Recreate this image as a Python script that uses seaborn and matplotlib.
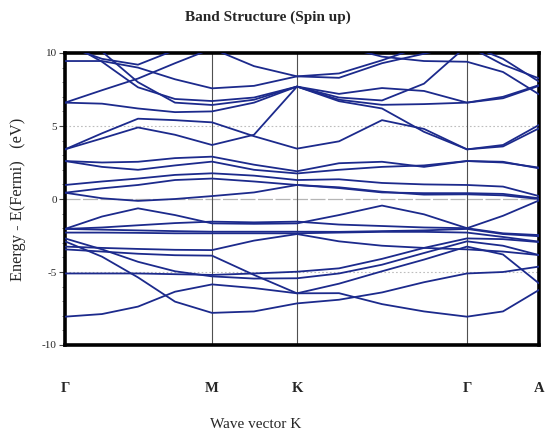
import matplotlib
matplotlib.use("Agg")
import matplotlib.pyplot as plt
from matplotlib.ticker import MultipleLocator
import pandas as pd
import seaborn as sns

# path coordinate along Γ-M-K-Γ-A (arbitrary units)
k_path = [0, 37, 73, 110, 147, 189, 232, 274, 317, 359, 402, 438, 474]
sym_k = [0, 147, 232, 402, 474]
sym_labels = ["Γ", "M", "K", "Γ", "A"]
y_ticks = [-10, -5, 0, 5, 10]

# band energies (eV) read at each k_path point
band_01 = [9.45, 9.45, 9.0, 8.2, 7.58, 7.75, 8.4, 8.3, 9.3, 9.95, 10.6, 9.6, 8.04]
band_02 = [6.6, 7.45, 8.25, 9.3, 10.3, 10.6, 10.6, 10.6, 10.6, 10.6, 10.5, 9.2, 8.26]
band_03 = [10.5, 9.6, 9.2, 10.2, 10.6, 10.6, 10.6, 10.5, 9.75, 9.45, 9.4, 8.7, 7.17]
band_04 = [10.8, 9.4, 7.65, 6.85, 6.71, 6.95, 7.7, 6.95, 6.75, 7.9, 10.5, 10.6, 10.6]
band_05 = [11.2, 10.1, 8.0, 6.6, 6.44, 6.8, 7.7, 7.2, 7.6, 7.4, 6.6, 7.0, 7.8]
band_06 = [11.0, 11.0, 11.0, 10.8, 10.3, 9.1, 8.4, 8.6, 9.5, 10.5, 10.6, 10.6, 10.6]
band_07 = [6.6, 6.53, 6.2, 5.95, 6.0, 6.6, 7.7, 6.7, 6.2, 4.6, 3.4, 3.6, 4.84]
band_08 = [3.4, 4.5, 5.5, 5.4, 5.25, 4.3, 3.45, 3.95, 5.4, 4.8, 3.4, 3.7, 5.07]
band_09 = [3.4, 4.15, 4.9, 4.4, 3.7, 4.4, 7.7, 6.8, 6.45, 6.5, 6.6, 6.9, 7.75]
band_10 = [2.6, 2.5, 2.55, 2.8, 2.9, 2.35, 1.9, 2.45, 2.55, 2.2, 2.6, 2.55, 2.1]
band_11 = [2.6, 2.2, 2.0, 2.3, 2.56, 2.0, 1.75, 2.0, 2.2, 2.3, 2.6, 2.5, 2.15]
band_12 = [0.96, 1.2, 1.4, 1.65, 1.76, 1.6, 1.3, 1.35, 1.1, 1.0, 0.96, 0.85, 0.2]
band_13 = [0.43, 0.73, 0.96, 1.3, 1.4, 1.2, 0.96, 0.75, 0.45, 0.4, 0.4, 0.35, 0.05]
band_14 = [0.43, 0.05, -0.13, 0.0, 0.2, 0.45, 0.96, 0.8, 0.5, 0.3, 0.32, 0.25, 0.0]
band_15 = [-2.05, -1.2, -0.64, -1.1, -1.67, -1.7, -1.67, -1.1, -0.45, -1.05, -2.0, -1.15, -0.1]
band_16 = [-2.05, -1.95, -1.8, -1.65, -1.55, -1.6, -1.55, -1.75, -1.85, -1.95, -2.0, -2.35, -2.47]
band_17 = [-2.05, -2.1, -2.15, -2.2, -2.24, -2.24, -2.24, -2.25, -2.2, -2.15, -2.05, -2.4, -2.55]
band_18 = [-2.3, -2.3, -2.32, -2.35, -2.35, -2.35, -2.35, -2.3, -2.25, -2.25, -2.3, -2.6, -2.92]
band_19 = [-3.26, -3.35, -3.42, -3.48, -3.5, -2.85, -2.4, -2.9, -3.2, -3.35, -3.45, -3.6, -3.84]
band_20 = [-3.45, -3.6, -3.75, -3.85, -3.88, -5.2, -6.46, -6.45, -7.2, -7.7, -8.06, -7.7, -6.23]
band_21 = [-5.1, -5.1, -5.1, -5.15, -5.2, -5.1, -4.98, -4.75, -4.1, -3.35, -2.7, -2.75, -2.95]
band_22 = [-2.7, -3.45, -4.3, -4.95, -5.3, -5.45, -5.43, -5.1, -4.5, -3.7, -2.9, -3.2, -3.84]
band_23 = [-8.06, -7.88, -7.37, -6.35, -5.85, -6.1, -6.46, -5.8, -4.95, -4.15, -3.26, -3.8, -5.78]
band_24 = [-2.9, -3.95, -5.37, -7.03, -7.8, -7.7, -7.15, -6.9, -6.4, -5.7, -5.1, -5.0, -4.63]

bands = [band_01, band_02, band_03, band_04, band_05, band_06, band_07, band_08,
         band_09, band_10, band_11, band_12, band_13, band_14, band_15, band_16,
         band_17, band_18, band_19, band_20, band_21, band_22, band_23, band_24]

rows = []
for i, b in enumerate(bands):
    for k, e in zip(k_path, b):
        rows.append((i, k, e))
df = pd.DataFrame(rows, columns=["band", "k", "E"])

sns.set_theme(style="white")
plt.rcParams["font.family"] = ["Liberation Serif", "DejaVu Serif"]
plt.rcParams["axes.unicode_minus"] = False

fig = plt.figure(figsize=(5.45, 4.34), dpi=100)
ax = fig.add_axes([65 / 545, 1 - 345 / 434, (539 - 65) / 545, (345 - 53) / 434])

# reference lines
ax.axhline(0, color="#b5b5b5", lw=0.9, ls=(0, (12, 2)), zorder=0)
for yv in (5, -5):
    ax.axhline(yv, color="#bdbdbd", lw=0.8, ls=(0, (1.5, 2)), zorder=0)
for kv in sym_k[1:-1]:
    ax.axvline(kv, color="#505050", lw=0.8, zorder=1)

sns.lineplot(data=df, x="k", y="E", units="band", estimator=None, sort=False,
             color="#1c2a8c", lw=1.3, ax=ax, zorder=3)

ax.set_xlim(sym_k[0], sym_k[-1])
ax.set_ylim(-10, 10)
ax.set_xlabel("")
ax.set_ylabel("")

for s in ax.spines.values():
    s.set_linewidth(2.6)
    s.set_color("black")

ax.set_yticks(y_ticks)
ax.set_yticklabels([str(v) for v in y_ticks])
ax.yaxis.set_minor_locator(MultipleLocator(1))
ax.tick_params(axis="y", which="major", direction="out", length=4, width=0.8,
               labelsize=8, pad=2, color="#444444", left=True)
ax.tick_params(axis="y", which="minor", direction="out", length=2.5, width=0.6,
               color="#666666", left=True)

ax.set_xticks(sym_k)
ax.set_xticklabels(sym_labels, fontweight="bold", fontsize=10.5)
ax.tick_params(axis="x", length=0, pad=27)

fig.text(268 / 545, 1 - 17 / 434, "Band Structure (Spin up)", ha="center", va="center",
         fontsize=11, fontweight="bold")
fig.text(256 / 545, 1 - 424 / 434, "Wave vector K", ha="center", va="center", fontsize=11)
fig.text(18 / 545, 1 - 199 / 434, "Energy - E(Fermi)   (eV)", ha="center", va="center",
         rotation=90, fontsize=11.8)

fig.savefig("out.png", dpi=100)
